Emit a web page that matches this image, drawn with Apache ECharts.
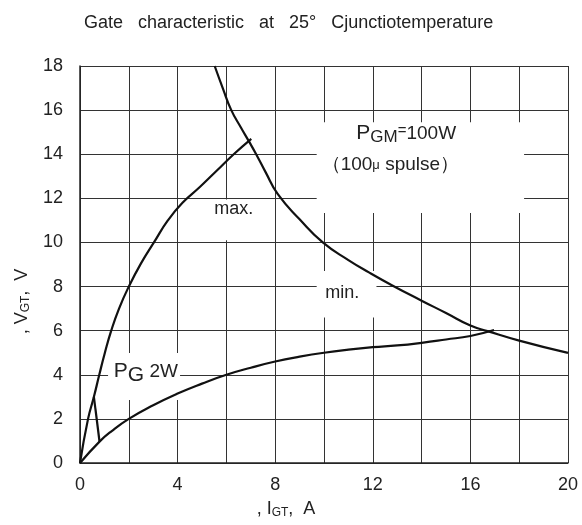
<!DOCTYPE html>
<html>
<head>
<meta charset="utf-8">
<script src="https://cdn.jsdelivr.net/npm/echarts@6/dist/echarts.min.js"></script>
<style>html,body{margin:0;padding:0;background:#fff}#c{width:582px;height:525px}</style>
</head>
<body>
<div id="c"></div>
<script>
// gate characteristic curves (I_GT in A, V_GT in V)
const maxCurve = [[0, 0], [0.33, 2], [0.57, 3.0], [0.79, 4], [1.02, 5.0], [1.28, 6], [1.6, 7.0], [2.0, 8],
  [2.5, 9.05], [3.03, 10], [3.6, 11.0], [4.2, 11.8], [4.9, 12.5], [5.6, 13.25], [6.3, 14], [7.02, 14.7]];
const spike = [[0.57, 3.0], [0.8, 0.97]];
const minCurve = [[0, 0], [0.8, 0.97], [1.3, 1.45], [2.0, 2.0], [3.0, 2.62], [4.0, 3.15], [5.0, 3.6],
  [6.0, 4.0], [7.0, 4.32], [8.0, 4.6], [9.0, 4.82], [10.0, 5.0], [11.0, 5.14], [12.0, 5.25],
  [13.0, 5.33], [14.0, 5.45], [15.0, 5.6], [16.0, 5.76], [16.97, 6.03]];
const pgmCurve = [[5.52, 18], [5.85, 17], [6.2, 16], [6.6, 15.2], [6.93, 14.57], [7.22, 14],
  [7.6, 13.2], [8.1, 12.2], [9.0, 11.05], [9.95, 10.0], [11.0, 9.2], [11.86, 8.63], [12.8, 8.05],
  [14.0, 7.36], [15.0, 6.8], [16.0, 6.23], [16.7, 5.98], [18.0, 5.55], [20.0, 4.99]];

const xTicks = [0, 4, 8, 12, 16, 20];

// text labels (data coordinates) and the white boxes behind them [x0, x1, y0, y1]
const notes = [
  {at: [6.3, 11.5], box: [5.2, 7.3, 10.1, 11.95], text: 'max.'},
  {at: [10.75, 7.72], box: [9.7, 12.15, 6.6, 8.7], text: 'min.'},
  {at: [13.37, 14.95], box: null, text: '{p|P}{s|GM}{e|=}{t|100W}'},
  {at: [12.72, 13.5], box: [9.7, 18.2, 11.33, 15.45], text: '{v|（100}{u|μ}{v| spulse）}'},
  {at: [2.7, 4.15], box: [1.15, 4.1, 2.86, 4.99], text: '{p|P}{g|G}{t| 2W}'}
];

const font = 'Liberation Sans, Arial, sans-serif';
const ink = '#222';
const chart = echarts.init(document.getElementById('c'));

const lineSeries = (data) => ({
  type: 'line', data: data, showSymbol: false, smooth: 0.5, silent: true,
  lineStyle: {color: '#111', width: 2.2}, z: 5
});

chart.setOption({
  animation: false,
  title: {
    text: 'Gate   characteristic   at   25°   Cjunctiotemperature',
    left: 79, top: 9,
    textStyle: {fontFamily: font, fontSize: 18, fontWeight: 'normal', color: ink}
  },
  grid: {left: 80, right: 14, top: 66, bottom: 62},
  xAxis: {
    type: 'value', min: 0, max: 20, interval: 2,
    name: ', I{s|GT},  A', nameLocation: 'middle', nameGap: 36,
    nameTextStyle: {fontFamily: font, fontSize: 18, color: ink, padding: [0, 76, 0, 0],
      rich: {s: {fontFamily: font, fontSize: 12, color: ink, padding: [8, 0, 0, 0]}}},
    axisLine: {lineStyle: {color: ink, width: 1.5}},
    axisTick: {show: false},
    axisLabel: {fontFamily: font, fontSize: 18, color: ink, margin: 13,
      formatter: v => xTicks.includes(v) ? String(v) : ''},
    splitLine: {lineStyle: {color: '#333', width: 1}}
  },
  yAxis: {
    type: 'value', min: 0, max: 18, interval: 2,
    name: ', V{s|GT},  V', nameLocation: 'middle', nameGap: 44,
    nameTextStyle: {fontFamily: font, fontSize: 18, color: ink, padding: [0, 74, 0, 0],
      rich: {s: {fontFamily: font, fontSize: 12, color: ink, padding: [8, 0, 0, 0]}}},
    axisLine: {show: true, lineStyle: {color: ink, width: 1.5}},
    axisTick: {show: false},
    axisLabel: {fontFamily: font, fontSize: 18, color: ink, margin: 17},
    splitLine: {lineStyle: {color: '#333', width: 1}}
  },
  series: [lineSeries(maxCurve), Object.assign(lineSeries(spike), {smooth: false}),
    lineSeries(minCurve), lineSeries(pgmCurve)]
});

// white boxes with the curve labels, on top of the grid lines but under the curves
const rich = {
  p: {fontFamily: font, fontSize: 21, color: ink},
  s: {fontFamily: font, fontSize: 17, color: ink, padding: [9, 0, 0, 0]},
  g: {fontFamily: font, fontSize: 21, color: ink, padding: [8, 0, 0, 0]},
  e: {fontFamily: font, fontSize: 15, color: ink, padding: [0, 0, 5, 0]},
  t: {fontFamily: font, fontSize: 19, color: ink},
  v: {fontFamily: font, fontSize: 19, color: ink},
  u: {fontFamily: font, fontSize: 13, color: ink}
};
const graphics = [];
notes.forEach(n => {
  if (n.box) {
    const a = chart.convertToPixel({gridIndex: 0}, [n.box[0], n.box[3]]);
    const b = chart.convertToPixel({gridIndex: 0}, [n.box[1], n.box[2]]);
    graphics.push({type: 'rect', shape: {x: a[0], y: a[1], width: b[0] - a[0], height: b[1] - a[1]},
      style: {fill: '#fff'}, z: 3, silent: true});
  }
  const c = chart.convertToPixel({gridIndex: 0}, n.at);
  graphics.push({type: 'text', x: c[0], y: c[1], z: 4, silent: true,
    style: {text: n.text, rich: rich, fontFamily: font, fontSize: 18,
      fill: ink, align: 'center', verticalAlign: 'middle'}});
});
chart.setOption({graphic: graphics});
</script>
</body>
</html>
